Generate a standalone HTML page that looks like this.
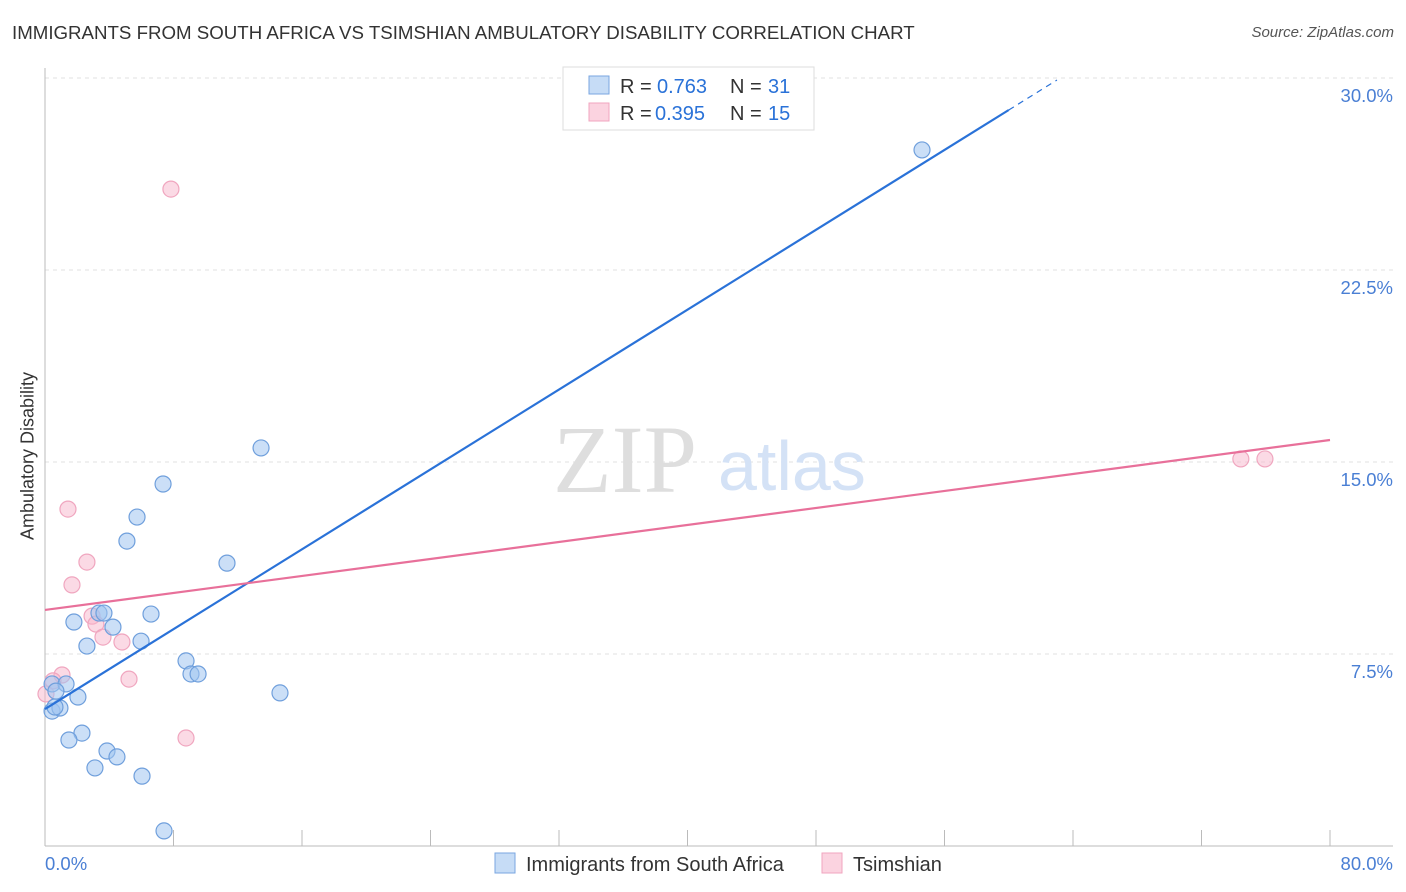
<!DOCTYPE html>
<html><head><meta charset="utf-8"><style>
body{margin:0;background:#fff;font-family:"Liberation Sans",sans-serif;}
#wrap{position:relative;width:1406px;height:892px;overflow:hidden;}
.t{position:absolute;white-space:nowrap;}
</style></head><body>
<div id="wrap">
<div class="t" style="left:12px;top:22px;font-size:18.7px;color:#333;">IMMIGRANTS FROM SOUTH AFRICA VS TSIMSHIAN AMBULATORY DISABILITY CORRELATION CHART</div>
<div class="t" style="right:12px;top:24px;font-size:15px;color:#555;font-style:italic;">Source: ZipAtlas.com</div>
<div class="t" style="left:28px;top:456px;font-size:18px;color:#333;transform:translate(-50%,-50%) rotate(-90deg);">Ambulatory Disability</div>
<svg id="svg" width="1406" height="892" style="position:absolute;left:0;top:0"></svg>
</div>
<script>
const blueX=[54.6,13.45,7.35,5.73,5.1,11.33,6.6,3.36,3.67,1.8,4.23,5.98,2.61,8.78,9.09,9.53,0.44,1.31,0.68,2.05,14.63,0.44,0.93,0.62,2.3,1.49,3.86,4.48,3.11,6.04,7.41];
const blueY=[27.19,15.55,14.14,12.85,11.91,11.05,9.06,9.1,9.1,8.75,8.55,8.0,7.81,7.23,6.72,6.72,6.33,6.33,6.05,5.82,5.98,5.27,5.39,5.43,4.41,4.14,3.71,3.48,3.05,2.73,0.59];
const pinkX=[7.84,1.43,2.61,1.68,2.93,3.17,3.61,4.79,1.06,0.5,0.06,5.23,8.78,74.45,75.95];
const pinkY=[25.66,13.16,11.09,10.2,8.98,8.67,8.16,7.97,6.68,6.45,5.94,6.52,4.22,15.12,15.12];
const blueTrend=[5.35,0.39]; // intercept, slope
const pinkTrend=[9.22,0.083];
const yTicks=[7.5,15.0,22.5,30.0];
const xTickCount=10;
const X=v=>45+v/80*1285, Y=v=>846-v*25.6;
const svg=document.getElementById('svg');const NS='http://www.w3.org/2000/svg';
function mk(tag,attrs,name,inter){const e=document.createElementNS(NS,tag);for(const k in attrs)e.setAttribute(k,attrs[k]);


svg.appendChild(e);return e;}
yTicks.forEach(v=>{mk('line',{x1:45,x2:1393,y1:Y(v),y2:Y(v),stroke:'#e2e2e2','stroke-dasharray':'4,4'},'y-gridline');
const t=mk('text',{x:1393,y:Y(v)+24,'text-anchor':'end','font-size':18.5,fill:'#4a7fd4','font-family':'Liberation Sans'},'y-tick-label');t.textContent=v.toFixed(1)+'%';});
mk('line',{x1:45,x2:45,y1:68,y2:846,stroke:'#bbb'},'y-axis');
mk('line',{x1:45,x2:1393,y1:846,y2:846,stroke:'#bbb'},'x-axis');
for(let i=1;i<=xTickCount;i++)mk('line',{x1:X(i*8),x2:X(i*8),y1:830,y2:846,stroke:'#bbb'},'x-tick');
let t=mk('text',{x:45,y:870,'font-size':18.5,fill:'#4a7fd4','font-family':'Liberation Sans'},'x-tick-label');t.textContent='0.0%';
t=mk('text',{x:1393,y:870,'text-anchor':'end','font-size':18.5,fill:'#4a7fd4','font-family':'Liberation Sans'},'x-tick-label');t.textContent='80.0%';
t=mk('text',{x:553,y:492,'font-size':96,fill:'#dedede','font-family':'Liberation Serif'},'watermark-zip');t.textContent='ZIP';
t=mk('text',{x:718,y:490,'font-size':70,fill:'#d4e2f6','font-family':'Liberation Sans'},'watermark-atlas');t.textContent='atlas';
pinkX.forEach((x,i)=>mk('circle',{cx:X(x),cy:Y(pinkY[i]),r:8,fill:'rgba(248,182,204,0.5)',stroke:'#f0a6bf','stroke-width':1.2},'tsimshian-point'));
blueX.forEach((x,i)=>mk('circle',{cx:X(x),cy:Y(blueY[i]),r:8,fill:'rgba(160,196,240,0.55)',stroke:'#6f9fdc','stroke-width':1.2},'south-africa-point'));
const bl=x=>blueTrend[0]+blueTrend[1]*x, pl=x=>pinkTrend[0]+pinkTrend[1]*x;
mk('line',{x1:X(0),y1:Y(bl(0)),x2:X(60),y2:Y(bl(60)),stroke:'#2a72d8','stroke-width':2.2},'south-africa-trendline');
mk('line',{x1:X(60),y1:Y(bl(60)),x2:X(63),y2:Y(bl(63)),stroke:'#2a72d8','stroke-width':1.2,'stroke-dasharray':'6,5'},'south-africa-trendline-extension');
mk('line',{x1:X(0),y1:Y(pl(0)),x2:X(80),y2:Y(pl(80)),stroke:'#e8709a','stroke-width':2.2},'tsimshian-trendline');
mk('rect',{x:563,y:67,width:251,height:63,fill:'#fff',stroke:'#ddd'},'stats-legend');
mk('rect',{x:589,y:76,width:20,height:18,fill:'rgba(160,196,240,0.6)',stroke:'#79a6e0'},'stats-legend-blue-swatch');
mk('rect',{x:589,y:103,width:20,height:18,fill:'rgba(248,182,204,0.6)',stroke:'#f0a6bf'},'stats-legend-pink-swatch');
function lt(x,y,s,c,n,fs){const e=mk('text',{x:x,y:y,'font-size':fs||20,fill:c,'font-family':'Liberation Sans'},n);e.textContent=s;}
lt(620,93,'R =','#333','stats-r-label');lt(657,93,'0.763','#2a72d8','stats-r-blue');lt(730,93,'N =','#333','stats-n-label');lt(768,93,'31','#2a72d8','stats-n-blue');
lt(620,120,'R =','#333','stats-r-label');lt(655,120,'0.395','#2a72d8','stats-r-pink');lt(730,120,'N =','#333','stats-n-label');lt(768,120,'15','#2a72d8','stats-n-pink');
mk('rect',{x:495,y:853,width:20,height:20,fill:'rgba(160,196,240,0.6)',stroke:'#79a6e0'},'legend-swatch-south-africa','true');
lt(526,871,'Immigrants from South Africa','#333','legend-label-south-africa');
mk('rect',{x:822,y:853,width:20,height:20,fill:'rgba(248,182,204,0.6)',stroke:'#f0a6bf'},'legend-swatch-tsimshian','true');
lt(853,871,'Tsimshian','#333','legend-label-tsimshian');
</script></body></html>
